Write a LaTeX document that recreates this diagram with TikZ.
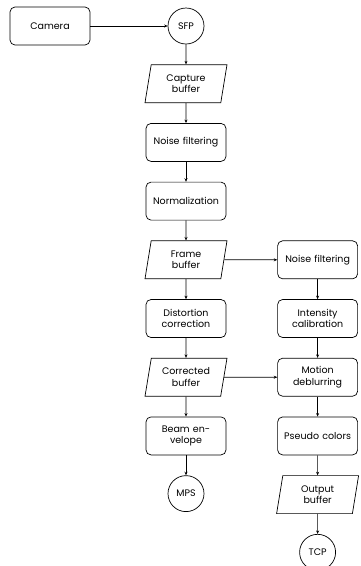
\documentclass[tikz,border=0pt]{standalone}
\usepackage{fontspec}
\setmainfont{Poppins}
\usetikzlibrary{arrows.meta,positioning,shapes.geometric}
\tikzset{proc/.style={draw,rounded corners=5pt,align=center,font=\fontsize{9.5}{11.5}\selectfont,minimum height=38pt,minimum width=80pt,text width=78pt,inner sep=1pt,line width=0.7pt},
buf/.style={draw,trapezium,trapezium left angle=73,trapezium right angle=107,trapezium stretches body,align=center,font=\fontsize{9.5}{11.5}\selectfont,minimum height=38pt,minimum width=82pt,text width=58pt,inner sep=1pt,line width=0.7pt},
port/.style={draw,circle,font=\fontsize{9.5}{11.5}\selectfont,minimum size=36pt,inner sep=0pt,line width=0.7pt},
flow/.style={-{Stealth[length=3.5pt,width=3pt]},line width=0.7pt}}
\begin{document}
\begin{tikzpicture}
\useasboundingbox (0,0) rectangle (360pt,-566pt);
\node[proc] (cam) at (50pt,-26pt) {Camera};
\node[port] (sfp) at (186pt,-26pt) {SFP};
\node[buf,below=20pt of sfp] (capbuf) {Capture\\buffer};
\node[proc,below=20pt of capbuf] (noise) {Noise filtering};
\node[proc,below=20pt of noise] (norm) {Normalization};
\node[buf,below=20pt of norm] (frmbuf) {Frame\\buffer};
\node[proc,below=20pt of frmbuf] (dist) {Distortion\\correction};
\node[buf,below=20pt of dist] (corbuf) {Corrected\\buffer};
\node[proc,below=20pt of corbuf] (beam) {Beam en-\\velope};
\node[port,below=20pt of beam] (mps) {MPS};
\node[proc,minimum width=79pt,right=53pt of frmbuf] (noise2) {Noise filtering};
\node[proc,minimum width=79pt,below=20pt of noise2] (calib) {Intensity\\calibration};
\node[proc,minimum width=79pt,below=20pt of calib] (deblur) {Motion\\deblurring};
\node[proc,minimum width=79pt,below=20pt of deblur] (pseudo) {Pseudo colors};
\node[buf,below=20pt of pseudo] (outbuf) {Output\\buffer};
\node[port,below=20pt of outbuf] (tcp) {TCP};
\draw[flow](cam)--(sfp);\draw[flow](sfp)--(capbuf);\draw[flow](capbuf)--(noise);\draw[flow](noise)--(norm);
\draw[flow](norm)--(frmbuf);\draw[flow](frmbuf)--(dist);\draw[flow](dist)--(corbuf);\draw[flow](corbuf)--(beam);\draw[flow](beam)--(mps);
\draw[flow](frmbuf)--(noise2);\draw[flow](noise2)--(calib);\draw[flow](calib)--(deblur);\draw[flow](corbuf)--(deblur);
\draw[flow](deblur)--(pseudo);\draw[flow](pseudo)--(outbuf);\draw[flow](outbuf)--(tcp);
\end{tikzpicture}
\end{document}
